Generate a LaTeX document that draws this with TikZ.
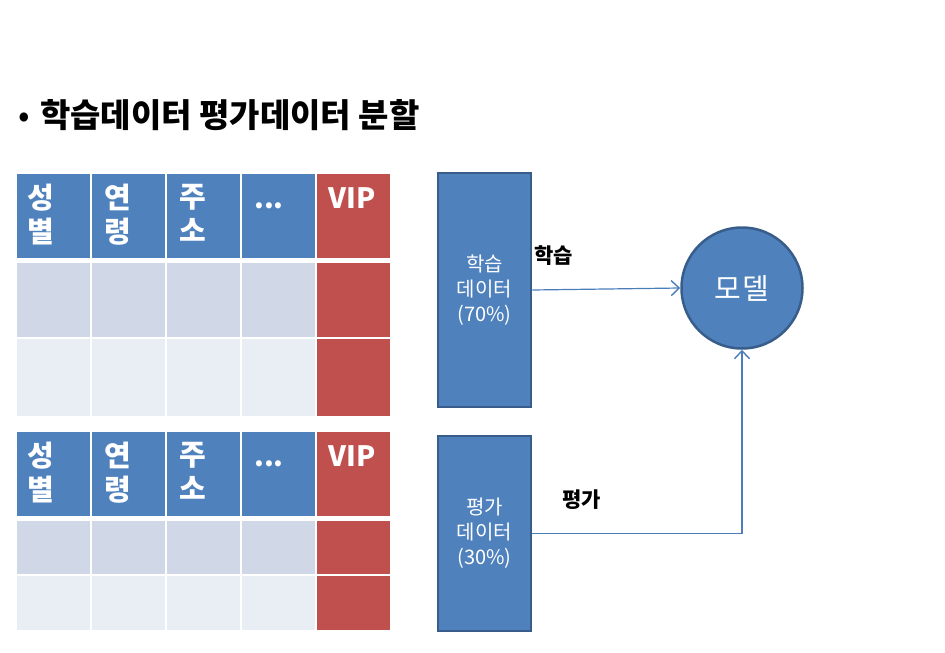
\documentclass[tikz,border=0pt]{standalone}
\usepackage{fontspec}
\newfontfamily\kr{Noto Sans CJK KR}
\usetikzlibrary{arrows.meta}
\definecolor{hdr}{HTML}{4F81BD}
\definecolor{rowa}{HTML}{D0D8E8}
\definecolor{rowb}{HTML}{E9EDF4}
\definecolor{vipred}{HTML}{C0504D}
\definecolor{edgeblue}{HTML}{385D8A}
\definecolor{arrblue}{HTML}{4A7EBB}
\begin{document}
\begin{tikzpicture}[x=1pt,y=-1pt,
  cell/.style={inner sep=0pt, outer sep=0pt, anchor=north west, minimum width=73pt},
  htext/.style={inner sep=0pt, anchor=north west, align=left, text=white,
    font=\kr\bfseries\fontsize{29}{34}\selectfont},
  vtext/.style={inner sep=0pt, anchor=base west, text=white,
    font=\kr\bfseries\fontsize{28}{34}\selectfont},
  databox/.style={draw=edgeblue, line width=2.5pt, fill=hdr, minimum width=93pt,
    inner sep=0pt, text=white, align=center,
    font=\kr\fontsize{20}{25}\selectfont},
  lbl/.style={inner sep=0pt, anchor=north west, font=\kr\bfseries\fontsize{21}{22}\selectfont},
  conn/.style={draw=arrblue, line width=1.2pt, -{Straight Barb[length=8pt,width=15pt,line width=1.4pt]}}
]
\useasboundingbox (0,0) rectangle (945,653);
% title
\node[inner sep=0pt, anchor=base west, font=\kr\bfseries\fontsize{33}{36}\selectfont] (title) at (40,127) {학습데이터 평가데이터 분할};
\node[inner sep=0pt, anchor=base east, font=\kr\fontsize{34}{36}\selectfont] (bullet) at ([xshift=-10pt]title.base west) {•};
% tables
\foreach \t/\ty/\ha/\yb/\hb/\yc/\hc in {1/174/84/263/74/339/77, 2/432/84/521/53/576/54}{
  \foreach \c/\cx in {1/17,2/92,3/167,4/242}{
    \node[cell, fill=hdr, minimum height=\ha pt] (t\t h\c) at (\cx,\ty) {};
    \node[cell, fill=rowa, minimum height=\hb pt] (t\t a\c) at (\cx,\yb) {};
    \node[cell, fill=rowb, minimum height=\hc pt] (t\t b\c) at (\cx,\yc) {};
  }
  \node[cell, fill=vipred, minimum height=\ha pt] (t\t h5) at (317,\ty) {};
  \node[cell, fill=vipred, minimum height=\hb pt] (t\t a5) at (317,\yb) {};
  \node[cell, fill=vipred, minimum height=\hc pt] (t\t b5) at (317,\yc) {};
  \node[htext] (t\t l1) at ([xshift=10pt,yshift=-10pt]t\t h1.north west) {성\\별};
  \node[htext] (t\t l2) at ([xshift=12pt,yshift=-10pt]t\t h2.north west) {연\\령};
  \node[htext] (t\t l3) at ([xshift=12pt,yshift=-10pt]t\t h3.north west) {주\\소};
  \node[vtext] (t\t l4) at ([xshift=12pt,yshift=-34pt]t\t h4.north west) {...};
  \node[vtext] (t\t l5) at ([xshift=11pt,yshift=-34pt]t\t h5.north west) {VIP};
}
% data boxes
\node[databox, minimum height=234pt] (train) at (484.5,290) {학습\\데이터\\(70\%)};
\node[databox, minimum height=195pt] (test) at (484.5,533.5) {평가\\데이터\\(30\%)};
% model
\node[circle, draw=edgeblue, line width=2.5pt, fill=hdr, minimum size=121pt, inner sep=0pt,
  text=white, font=\kr\fontsize{29}{30}\selectfont] (model) at (742,288) {모\hspace{2pt}델};
% connectors
\draw[conn] (train.east) -- (model.west);
\draw[conn] (test.east) -| (model.south);
% labels
\node[lbl] (lt) at (534,245) {학습};
\node[lbl] (le) at (562,490) {평가};
\end{tikzpicture}
\end{document}
